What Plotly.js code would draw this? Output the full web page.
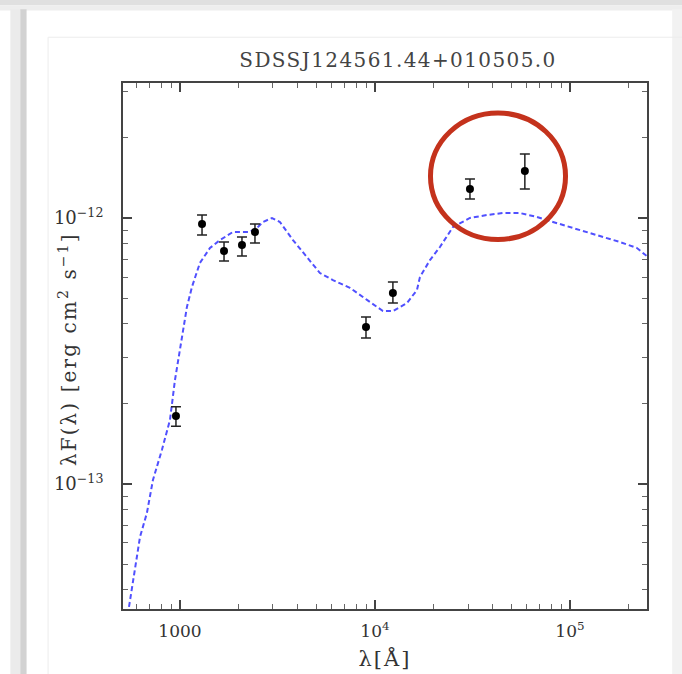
<!DOCTYPE html>
<html>
<head>
<meta charset="utf-8">
<script src="https://cdn.plot.ly/plotly-3.0.1.min.js"></script>
<style>
html,body{margin:0;padding:0;background:#fff;}
#chart{width:682px;height:674px;}
#chart .gtitle{letter-spacing:1.4px;}
#chart .xtitle{letter-spacing:2px;}
#chart .annotation-text{letter-spacing:2.1px;}
</style>
</head>
<body>
<div id="chart"></div>
<script>
// Photometric points (wavelength in Angstrom, lambda*F(lambda) in erg cm^-2 s^-1)
const obsWave = [954, 1298, 1683, 2080, 2425, 8995, 12360, 30700, 58700];
const obsFlux = [1.80e-13, 9.49e-13, 7.51e-13, 7.91e-13, 8.86e-13, 3.89e-13, 5.22e-13, 1.285e-12, 1.502e-12];
const obsErrPlus = [0.15e-13, 0.77e-13, 0.61e-13, 0.57e-13, 0.63e-13, 0.35e-13, 0.52e-13, 0.116e-12, 0.238e-12];
const obsErrMinus = [0.15e-13, 0.86e-13, 0.62e-13, 0.71e-13, 0.81e-13, 0.35e-13, 0.43e-13, 0.106e-12, 0.217e-12];

// Model SED curve
const modelWave = [548, 624, 677, 727, 808, 889, 943, 1024, 1086, 1152, 1266, 1425, 1604, 1870, 2286, 2483, 2665, 2964, 3256, 3798, 4480, 5223, 6090, 7444, 9100, 10990, 12370, 14590, 16420, 17010, 19150, 21540, 25120, 30700, 37530, 45330, 55410, 67730, 81800, 100000, 122200, 147700, 180500, 220600, 251200];
const modelFlux = [3.45e-14, 6.32e-14, 7.78e-14, 1.035e-13, 1.342e-13, 1.741e-13, 2.46e-13, 3.57e-13, 4.63e-13, 5.50e-13, 6.78e-13, 7.71e-13, 8.26e-13, 8.86e-13, 8.86e-13, 9.17e-13, 9.66e-13, 1.00e-12, 9.66e-13, 8.26e-13, 7.13e-13, 6.21e-13, 5.84e-13, 5.46e-13, 4.92e-13, 4.47e-13, 4.47e-13, 4.79e-13, 5.36e-13, 6.00e-13, 6.95e-13, 7.78e-13, 9.25e-13, 1.00e-12, 1.026e-12, 1.044e-12, 1.044e-12, 1.009e-12, 9.66e-13, 9.25e-13, 8.86e-13, 8.48e-13, 8.12e-13, 7.71e-13, 7.13e-13];

const xTickVals = [1000, 1e4, 1e5];
const xTickText = ['1000', '10<sup>4</sup>', '10<sup>5</sup>'];
const yTickVals = [1e-13, 1e-12];
const yTickText = ['10<sup>\u221213</sup>', '10<sup>\u221212</sup>'];

const titleText = 'SDSSJ124561.44+010505.0';
const xTitle = '\u03bb[\u00c5]';
const yTitle = '\u03bbF(\u03bb) [erg cm<sup>2</sup> s<sup>\u22121</sup>]';

function minorVals(lo, hi) {
  const out = [];
  for (let e = lo; e <= hi; e++) {
    for (let m = 2; m <= 9; m++) out.push(m * Math.pow(10, e));
  }
  return out;
}

const serif = 'DejaVu Serif, Liberation Serif, serif';

const traces = [
  {
    x: modelWave, y: modelFlux, type: 'scatter', mode: 'lines',
    line: {color: '#5050ff', width: 2, dash: '5px,3px'},
    hoverinfo: 'skip', showlegend: false
  },
  {
    x: obsWave, y: obsFlux, type: 'scatter', mode: 'markers',
    marker: {color: '#000', size: 8},
    error_y: {type: 'data', symmetric: false, array: obsErrPlus, arrayminus: obsErrMinus,
              color: '#222', thickness: 1.5, width: 5},
    showlegend: false
  }
];

const axisCommon = {
  showline: true, linecolor: '#444', linewidth: 2, mirror: 'allticks',
  ticks: 'inside', ticklen: 9, tickwidth: 1.5, tickcolor: '#444',
  showgrid: false, zeroline: false,
  tickfont: {family: serif, size: 17, color: '#333'}
};

const layout = {
  width: 682, height: 674,
  margin: {l: 123, r: 35, t: 83, b: 65},
  paper_bgcolor: '#fff', plot_bgcolor: '#fff',
  title: {text: titleText, font: {family: serif, size: 20, color: '#444'},
          x: 0.5836, xref: 'container', xanchor: 'center', y: 0.911, yref: 'container', yanchor: 'middle'},
  xaxis: Object.assign({}, axisCommon, {
    type: 'log', range: [2.708, 5.395], tickmode: 'array', tickvals: xTickVals, ticktext: xTickText,
    ticklabelstandoff: 6,
    minor: {tickmode: 'array', tickvals: minorVals(2, 5), ticks: 'inside', ticklen: 5, tickcolor: '#666', tickwidth: 1, showgrid: false},
    title: {text: xTitle, font: {family: serif, size: 21, color: '#333'}, standoff: 11}
  }),
  yaxis: Object.assign({}, axisCommon, {
    type: 'log', range: [-13.470, -11.4925], tickmode: 'array', tickvals: yTickVals, ticktext: yTickText,
    ticklabelstandoff: 14, tickfont: {family: serif, size: 18, color: '#333'},
    minor: {tickmode: 'array', tickvals: minorVals(-14, -12), ticks: 'inside', ticklen: 5, tickcolor: '#666', tickwidth: 1, showgrid: false}
  }),
  annotations: [
    {text: yTitle, xref: 'paper', yref: 'paper', x: -0.105, y: 0.494, xanchor: 'center', yanchor: 'middle',
     textangle: -90, showarrow: false, font: {family: serif, size: 20, color: '#333'}}
  ],
  shapes: [
    // page shadow at top
    {type: 'rect', xref: 'paper', yref: 'paper', x0: -0.3, x1: 1.2, y0: 1.158, y1: 1.2, fillcolor: '#d4d4d4', line: {width: 0}, layer: 'below'},
    {type: 'rect', xref: 'paper', yref: 'paper', x0: -0.3, x1: 1.2, y0: 1.148, y1: 1.158, fillcolor: '#e0e0e0', line: {width: 0}, layer: 'below'},
    {type: 'rect', xref: 'paper', yref: 'paper', x0: -0.3, x1: 1.2, y0: 1.138, y1: 1.148, fillcolor: '#eeeeee', line: {width: 0}, layer: 'below'},
    // left shadow
    {type: 'rect', xref: 'paper', yref: 'paper', x0: -0.215, x1: -0.196, y0: -0.2, y1: 1.14, fillcolor: '#ebebeb', line: {width: 0}, layer: 'below'},
    {type: 'rect', xref: 'paper', yref: 'paper', x0: -0.196, x1: -0.184, y0: -0.2, y1: 1.14, fillcolor: '#d2d2d2', line: {width: 0}, layer: 'below'},
    // right shadow
    {type: 'rect', xref: 'paper', yref: 'paper', x0: 1.048, x1: 1.2, y0: -0.2, y1: 1.14, fillcolor: '#f2f2f2', line: {width: 0}, layer: 'below'},
    // inner panel border
    {type: 'line', xref: 'paper', yref: 'paper', x0: -0.143, x1: -0.143, y0: -0.2, y1: 1.087, line: {color: '#ececec', width: 1}, layer: 'below'},
    {type: 'line', xref: 'paper', yref: 'paper', x0: -0.143, x1: 1.2, y0: 1.087, y1: 1.087, line: {color: '#ececec', width: 1}, layer: 'below'},
    // red highlight circle
    {type: 'circle', xref: 'paper', yref: 'paper', x0: 0.5868, x1: 0.8445, y0: 0.7025, y1: 0.943,
     line: {color: '#c4321c', width: 5}, layer: 'above'}
  ]
};

Plotly.newPlot('chart', traces, layout, {displayModeBar: false, staticPlot: true});
</script>
</body>
</html>
